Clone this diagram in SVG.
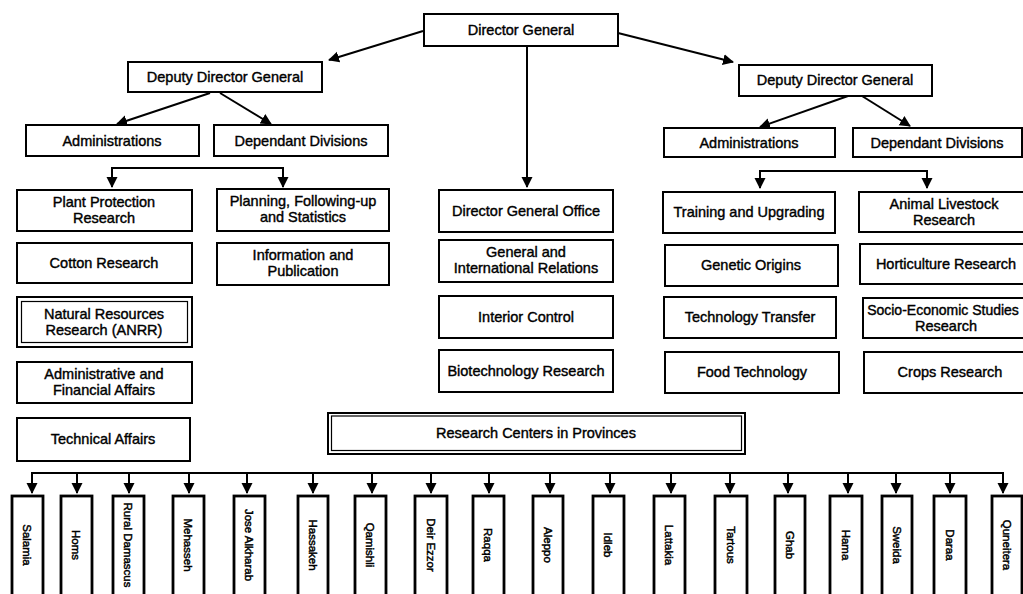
<svg xmlns="http://www.w3.org/2000/svg" width="1023" height="594" viewBox="0 0 1023 594">
  <style>
    .box { fill: #fff; stroke: #000; stroke-width: 2; }
    .thin { fill: none; stroke: #000; stroke-width: 1.2; }
    .prov { fill: #fff; stroke: #000; stroke-width: 2.8; }
    .lbl { font-family: "Liberation Sans", Arial, sans-serif; font-size: 14.5px; fill: #000; stroke: #000; stroke-width: 0.4; text-anchor: middle; }
    .vlbl { font-family: "Liberation Sans", Arial, sans-serif; font-size: 11.5px; fill: #000; stroke: #000; stroke-width: 0.45; text-anchor: middle; }
    .wire { fill: none; stroke: #000; stroke-width: 2; }
    .arrow { fill: none; stroke: #000; stroke-width: 2; marker-end: url(#head); }
  </style>
  <defs>
    <marker id="head" markerUnits="userSpaceOnUse" markerWidth="12" markerHeight="12" refX="10" refY="5.5" orient="auto">
      <path d="M0,0 L11,5.5 L0,11 Z" fill="#000"/>
    </marker>
  </defs>
  <rect width="1023" height="594" fill="#fff"/>

  <!-- connectors -->
  <g id="connectors">
    <path class="arrow" d="M423,31 L329,60"/>
    <path class="arrow" d="M618,33 L733,62"/>
    <path class="arrow" d="M527,46 L527,187"/>
    <path class="arrow" d="M210,93 L117,124"/>
    <path class="arrow" d="M220,93 L271,124"/>
    <path class="arrow" d="M848,96 L760,127"/>
    <path class="arrow" d="M862,96 L910,126"/>
    <path class="wire" d="M112,168 L283,168"/>
    <path class="arrow" d="M112,167 L112,187"/>
    <path class="arrow" d="M283,167 L283,187"/>
    <path class="wire" d="M760,171 L927,171"/>
    <path class="arrow" d="M760,170 L760,188"/>
    <path class="arrow" d="M927,170 L927,188"/>
    <path class="wire" d="M32,473 L1003,473"/>
    <path class="arrow" d="M32,472 L32,493"/>
    <path class="arrow" d="M77,472 L77,493"/>
    <path class="arrow" d="M129,472 L129,493"/>
    <path class="arrow" d="M189,472 L189,493"/>
    <path class="arrow" d="M247,472 L247,493"/>
    <path class="arrow" d="M313,472 L313,493"/>
    <path class="arrow" d="M372,472 L372,493"/>
    <path class="arrow" d="M431,472 L431,493"/>
    <path class="arrow" d="M489,472 L489,493"/>
    <path class="arrow" d="M550,472 L550,493"/>
    <path class="arrow" d="M610,472 L610,493"/>
    <path class="arrow" d="M671,472 L671,493"/>
    <path class="arrow" d="M730,472 L730,493"/>
    <path class="arrow" d="M788,472 L788,493"/>
    <path class="arrow" d="M848,472 L848,493"/>
    <path class="arrow" d="M896,472 L896,493"/>
    <path class="arrow" d="M950,472 L950,493"/>
    <path class="arrow" d="M1003,472 L1003,493"/>
  </g>

  <!-- top level -->
  <g id="director-general">
    <rect class="box" x="424" y="14" width="194" height="32"/>
    <text class="lbl" x="521" y="35">Director General</text>
  </g>
  <g id="deputy-left">
    <rect class="box" x="128" y="62" width="194" height="30"/>
    <text class="lbl" x="225" y="82">Deputy Director General</text>
  </g>
  <g id="deputy-right">
    <rect class="box" x="739" y="65" width="193" height="31"/>
    <text class="lbl" x="835" y="85">Deputy Director General</text>
  </g>

  <g id="admin-left">
    <rect class="box" x="26" y="125" width="173" height="31"/>
    <text class="lbl" x="112" y="146">Administrations</text>
  </g>
  <g id="divisions-left">
    <rect class="box" x="214" y="125" width="174" height="31"/>
    <text class="lbl" x="301" y="146">Dependant Divisions</text>
  </g>
  <g id="admin-right">
    <rect class="box" x="664" y="128" width="171" height="29"/>
    <text class="lbl" x="749" y="148">Administrations</text>
  </g>
  <g id="divisions-right">
    <rect class="box" x="853" y="128" width="169" height="29"/>
    <text class="lbl" x="937" y="148">Dependant Divisions</text>
  </g>

  <!-- left administrations -->
  <g id="plant-protection">
    <rect class="box" x="17" y="190" width="175" height="41"/>
    <text class="lbl" x="104" y="207">Plant Protection</text>
    <text class="lbl" x="104" y="223">Research</text>
  </g>
  <g id="cotton">
    <rect class="box" x="17" y="243" width="175" height="40"/>
    <text class="lbl" x="104" y="268">Cotton Research</text>
  </g>
  <g id="natural-resources">
    <rect class="box" x="17" y="297" width="175" height="50" stroke-width="2.4"/>
    <rect class="thin" x="21.5" y="301.5" width="166" height="41" stroke-width="2"/>
    <text class="lbl" x="104" y="319">Natural Resources</text>
    <text class="lbl" x="104" y="335">Research (ANRR)</text>
  </g>
  <g id="admin-financial">
    <rect class="box" x="17" y="362" width="175" height="41"/>
    <text class="lbl" x="104" y="379">Administrative and</text>
    <text class="lbl" x="104" y="395">Financial Affairs</text>
  </g>
  <g id="technical-affairs">
    <rect class="box" x="17" y="418" width="173" height="43"/>
    <text class="lbl" x="103" y="444">Technical Affairs</text>
  </g>

  <!-- left dependant divisions -->
  <g id="planning">
    <rect class="box" x="217" y="189" width="172" height="42"/>
    <text class="lbl" x="303" y="206">Planning, Following-up</text>
    <text class="lbl" x="303" y="222">and Statistics</text>
  </g>
  <g id="information">
    <rect class="box" x="217" y="243" width="172" height="42"/>
    <text class="lbl" x="303" y="260">Information and</text>
    <text class="lbl" x="303" y="276">Publication</text>
  </g>

  <!-- central column -->
  <g id="dg-office">
    <rect class="box" x="439" y="190" width="174" height="42"/>
    <text class="lbl" x="526" y="216">Director General Office</text>
  </g>
  <g id="relations">
    <rect class="box" x="439" y="240" width="174" height="42"/>
    <text class="lbl" x="526" y="257">General and</text>
    <text class="lbl" x="526" y="273">International Relations</text>
  </g>
  <g id="interior-control">
    <rect class="box" x="439" y="296" width="174" height="42"/>
    <text class="lbl" x="526" y="322">Interior Control</text>
  </g>
  <g id="biotechnology">
    <rect class="box" x="439" y="350" width="174" height="42"/>
    <text class="lbl" x="526" y="376">Biotechnology Research</text>
  </g>

  <!-- right administrations -->
  <g id="training">
    <rect class="box" x="663" y="192" width="172" height="41"/>
    <text class="lbl" x="749" y="217">Training and Upgrading</text>
  </g>
  <g id="genetic-origins">
    <rect class="box" x="665" y="245" width="173" height="41"/>
    <text class="lbl" x="751" y="270">Genetic Origins</text>
  </g>
  <g id="technology-transfer">
    <rect class="box" x="664" y="297" width="172" height="41"/>
    <text class="lbl" x="750" y="322">Technology Transfer</text>
  </g>
  <g id="food-technology">
    <rect class="box" x="665" y="352" width="174" height="41"/>
    <text class="lbl" x="752" y="377">Food Technology</text>
  </g>

  <!-- right dependant divisions -->
  <g id="animal-livestock">
    <rect class="box" x="859" y="192" width="172" height="40"/>
    <text class="lbl" x="944" y="209">Animal Livestock</text>
    <text class="lbl" x="944" y="225">Research</text>
  </g>
  <g id="horticulture">
    <rect class="box" x="860" y="244" width="172" height="40"/>
    <text class="lbl" x="946" y="269">Horticulture Research</text>
  </g>
  <g id="socio-economic">
    <rect class="box" x="863" y="298" width="172" height="40"/>
    <text class="lbl" x="943" y="315" style="font-size:14px">Socio-Economic Studies</text>
    <text class="lbl" x="946" y="331">Research</text>
  </g>
  <g id="crops">
    <rect class="box" x="864" y="352" width="172" height="41"/>
    <text class="lbl" x="950" y="377">Crops Research</text>
  </g>

  <!-- provincial centres -->
  <g id="research-centers">
    <rect class="box" x="328" y="413" width="417" height="41" stroke-width="2.4"/>
    <rect class="thin" x="331.5" y="416" width="410" height="34.5"/>
    <text class="lbl" x="536" y="438">Research Centers in Provinces</text>
  </g>

  <g id="p-salamia"><rect class="prov" x="12" y="496" width="31" height="110"/><text class="vlbl" transform="translate(27.5,545) rotate(90)" dy="0.35em">Salamia</text></g>
  <g id="p-homs"><rect class="prov" x="61" y="496" width="31" height="110"/><text class="vlbl" transform="translate(76.5,545) rotate(90)" dy="0.35em">Homs</text></g>
  <g id="p-rural-damascus"><rect class="prov" x="113" y="496" width="31" height="110"/><text class="vlbl" transform="translate(128.5,545) rotate(90)" dy="0.35em">Rural Damascus</text></g>
  <g id="p-mehasseh"><rect class="prov" x="173" y="496" width="31" height="110"/><text class="vlbl" transform="translate(188.5,545) rotate(90)" dy="0.35em">Mehasseh</text></g>
  <g id="p-jose-alkharab"><rect class="prov" x="234" y="496" width="31" height="110"/><text class="vlbl" transform="translate(249.5,545) rotate(90)" dy="0.35em">Jose Alkharab</text></g>
  <g id="p-hassakeh"><rect class="prov" x="298" y="496" width="30" height="110"/><text class="vlbl" transform="translate(313,545) rotate(90)" dy="0.35em">Hassakeh</text></g>
  <g id="p-qamishli"><rect class="prov" x="355" y="496" width="31" height="110"/><text class="vlbl" transform="translate(370.5,545) rotate(90)" dy="0.35em">Qamishli</text></g>
  <g id="p-deir-ezzor"><rect class="prov" x="415" y="496" width="32" height="110"/><text class="vlbl" transform="translate(431,545) rotate(90)" dy="0.35em">Deir Ezzor</text></g>
  <g id="p-raqqa"><rect class="prov" x="473" y="496" width="31" height="110"/><text class="vlbl" transform="translate(488.5,545) rotate(90)" dy="0.35em">Raqqa</text></g>
  <g id="p-aleppo"><rect class="prov" x="533" y="496" width="30" height="110"/><text class="vlbl" transform="translate(548,545) rotate(90)" dy="0.35em">Aleppo</text></g>
  <g id="p-idleb"><rect class="prov" x="593" y="496" width="31" height="110"/><text class="vlbl" transform="translate(608.5,545) rotate(90)" dy="0.35em">Idleb</text></g>
  <g id="p-lattakia"><rect class="prov" x="654" y="496" width="31" height="110"/><text class="vlbl" transform="translate(669.5,545) rotate(90)" dy="0.35em">Lattakia</text></g>
  <g id="p-tartous"><rect class="prov" x="715" y="496" width="32" height="110"/><text class="vlbl" transform="translate(731,545) rotate(90)" dy="0.35em">Tartous</text></g>
  <g id="p-ghab"><rect class="prov" x="775" y="496" width="30" height="110"/><text class="vlbl" transform="translate(790,545) rotate(90)" dy="0.35em">Ghab</text></g>
  <g id="p-hama"><rect class="prov" x="830" y="496" width="32" height="110"/><text class="vlbl" transform="translate(846,545) rotate(90)" dy="0.35em">Hama</text></g>
  <g id="p-sweida"><rect class="prov" x="882" y="496" width="30" height="110"/><text class="vlbl" transform="translate(897,545) rotate(90)" dy="0.35em">Sweida</text></g>
  <g id="p-daraa"><rect class="prov" x="934" y="496" width="32" height="110"/><text class="vlbl" transform="translate(950,545) rotate(90)" dy="0.35em">Daraa</text></g>
  <g id="p-quneitera"><rect class="prov" x="992" y="496" width="30" height="110"/><text class="vlbl" transform="translate(1007,545) rotate(90)" dy="0.35em">Quneitera</text></g>
</svg>
